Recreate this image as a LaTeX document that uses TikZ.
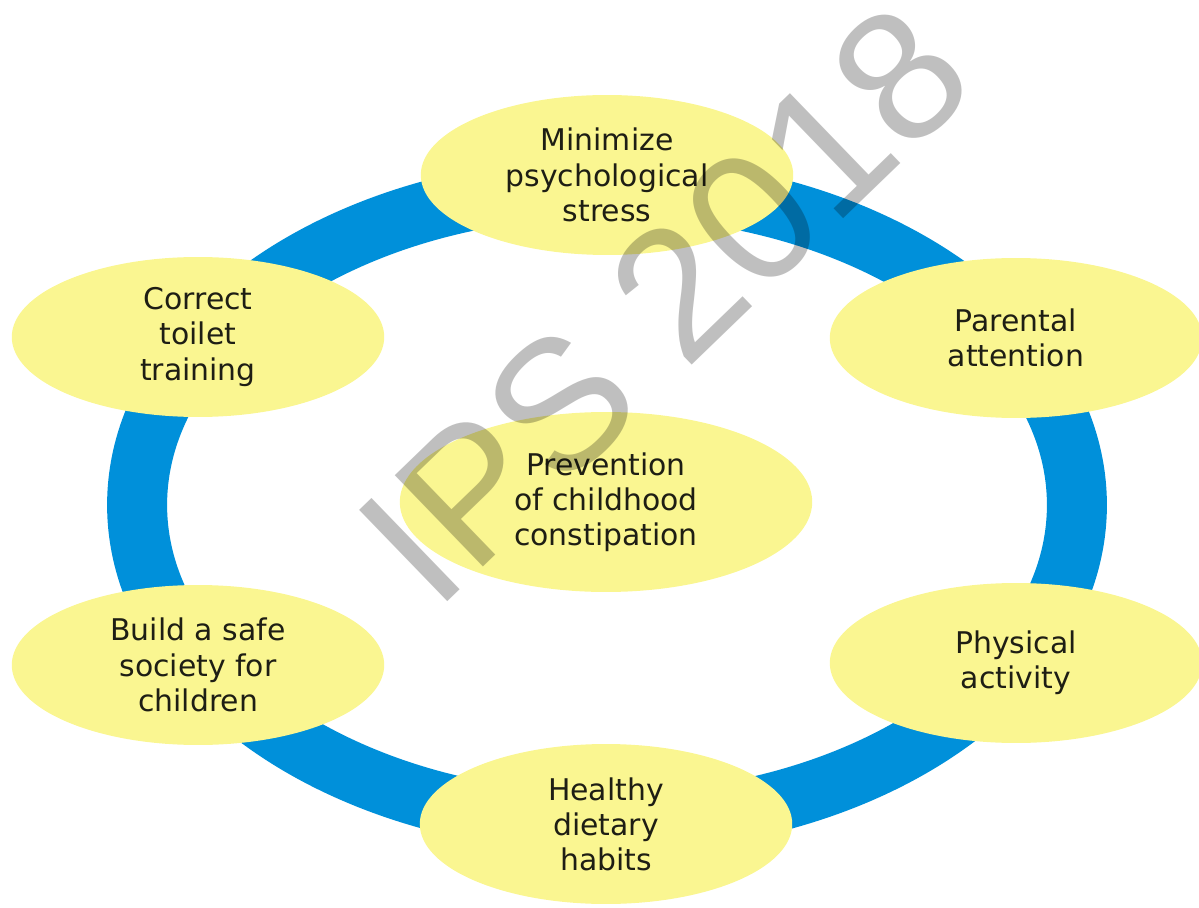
\documentclass[tikz,border=0pt]{standalone}
\usepackage{fontspec}
\setmainfont{DejaVu Sans}
\newfontfamily\markfont{Liberation Sans}
\usetikzlibrary{shapes.geometric}

\definecolor{ringblue}{RGB}{0,144,218}
\definecolor{paleyellow}{RGB}{250,246,145}
\definecolor{inktext}{RGB}{30,30,20}

\begin{document}
\begin{tikzpicture}
[
                  x =  0.02cm,
                  y = -0.02cm,
         ring/.style = { draw=ringblue, line width=1.2cm },
       bubble/.style = { ellipse, fill=paleyellow, draw=none, inner sep=0pt,
                         minimum width=7.45cm, minimum height=3.2cm,
                         align=center, text=inktext,
                         font=\fontsize{17}{20}\selectfont },
   mainbubble/.style = { bubble, minimum width=8.25cm, minimum height=3.6cm },
    watermark/.style = { text=black, text opacity=0.25, rotate=44, inner sep=0pt,
                         font=\markfont\fontsize{105}{105}\selectfont }
]

    \useasboundingbox (0,0) rectangle (1199,908);

    % ring behind the bubbles
    \coordinate (Hub) at (607,505);
    \draw [ring] (Hub) ellipse [x radius=9.4cm, y radius=6.36cm];

    \node (Stress)    at (607,175) [bubble]     {Minimize\\psychological\\stress};
    \node (Toilet)    at (198,337) [bubble]     {Correct\\toilet\\training};
    \node (Parental)  at (1016,338) [bubble]    {Parental\\attention};
    \node (Society)   at (198,665) [bubble]     {Build a safe\\society for\\children};
    \node (Physical)  at (1016,663) [bubble]    {Physical\\activity};
    \node (Dietary)   at (606,824) [bubble]     {Healthy\\dietary\\habits};
    \node (Prevention) at (606,502) [mainbubble] {Prevention\\of childhood\\constipation};

    \node (Stamp) at (664,304) [watermark] {IPS 2018};

\end{tikzpicture}
\end{document}
